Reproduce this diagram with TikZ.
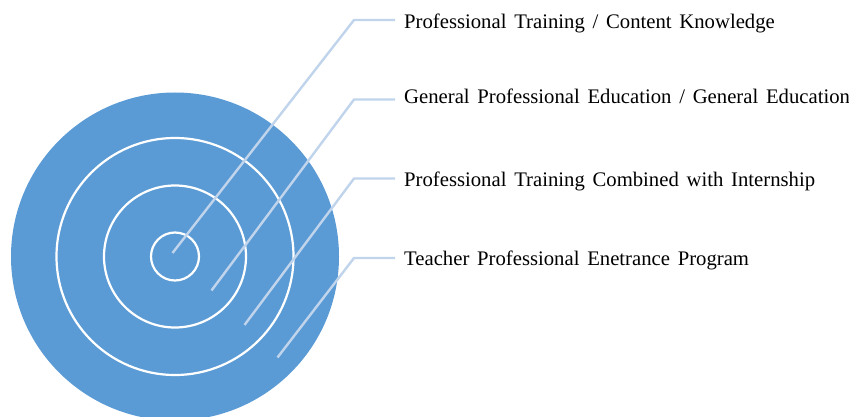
\documentclass[tikz,border=0pt]{standalone}
\usepackage{fontspec}
\setmainfont{Liberation Serif}
\newfontfamily\labfamily{Liberation Serif}[WordSpace={1.5,0,0}]
\definecolor{target}{RGB}{91,155,213}
\definecolor{leader}{RGB}{192,212,236}
\tikzset{
  ring/.style={draw=white, line width=2.2pt},
  leaderline/.style={draw=leader, line width=2.4pt},
  lab/.style={anchor=base west, inner xsep=9pt, inner ysep=0pt, font=\labfamily\fontsize{20.7}{24}\selectfont}
}
\begin{document}
\begin{tikzpicture}[x=1pt,y=-1pt]
\useasboundingbox (0,0) rectangle (849,417);
\clip (0,0) rectangle (849,417);
\fill[target] (175,256.5) circle[radius=164];
\draw[ring] (175,256.5) circle[radius=118.5];
\draw[ring] (175,256.5) circle[radius=71];
\draw[ring] (175,256.5) circle[radius=24];
% end points and bends
\coordinate (e1) at (172.5,253);
\coordinate (e2) at (211.5,290.5);
\coordinate (e3) at (244.5,325);
\coordinate (e4) at (277.5,357.5);
\coordinate (b1) at (354,20);
\coordinate (b2) at (354,99.5);
\coordinate (b3) at (354,178.5);
\coordinate (b4) at (354,258);
\node[lab] (l1) at (395,28.8) {Professional Training / Content Knowledge};
\node[lab] (l2) at (395,103.6) {General Professional Education / General Education};
\node[lab] (l3) at (395,186.3) {Professional Training Combined with Internship};
\node[lab] (l4) at (395,265.5) {Teacher Professional Enetrance Program};
\draw[leaderline] (e1) -- (b1) -- (b1 -| l1.west);
\draw[leaderline] (e2) -- (b2) -- (b2 -| l2.west);
\draw[leaderline] (e3) -- (b3) -- (b3 -| l3.west);
\draw[leaderline] (e4) -- (b4) -- (b4 -| l4.west);
\end{tikzpicture}
\end{document}
